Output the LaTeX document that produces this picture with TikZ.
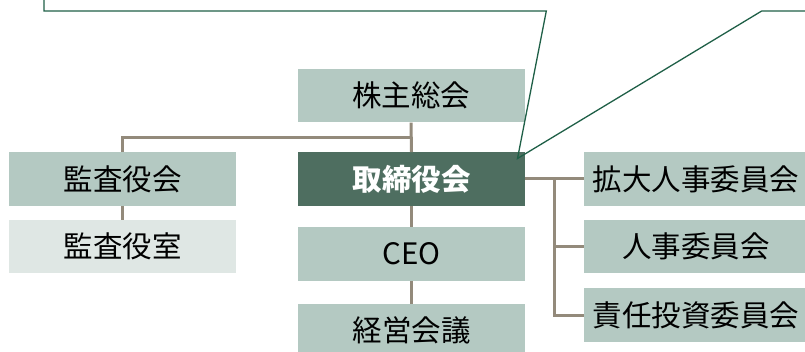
\documentclass[tikz,border=0pt]{standalone}
\usepackage{fontspec}
\setmainfont{Noto Sans CJK JP}
\definecolor{sage}{HTML}{B4C9C2}
\definecolor{darkbox}{HTML}{4E6E60}
\definecolor{paleb}{HTML}{DFE7E4}
\definecolor{linec}{HTML}{938A7B}
\definecolor{callc}{HTML}{1F5F47}
\tikzset{
  orgbox/.style={rectangle, fill=sage, inner sep=0pt, minimum width=227pt, minimum height=53.5pt, font=\fontsize{29.5}{32}\selectfont, text=black},
  darkorg/.style={orgbox, fill=darkbox, text=white, font=\fontsize{29.5}{32}\selectfont\bfseries},
  paleorg/.style={orgbox, fill=paleb},
  sideorg/.style={orgbox, minimum width=224pt},
  conn/.style={draw=linec, line width=3pt},
  callout/.style={draw=callc, line width=1.3pt, line join=miter}
}
\begin{document}
\begin{tikzpicture}[x=1pt, y=-1pt]
\useasboundingbox (0,0) rectangle (805,352);
\clip (0,0) rectangle (805,352);
\node[orgbox] (sh) at (411,95.7) {株主総会};
\node[darkorg] (tori) at (411.5,179) {取締役会};
\node[orgbox] (kansa) at (122.5,179) {監査役会};
\node[paleorg] (kshitsu) at (122.5,246.5) {監査役室};
\node[orgbox] (ceo) at (411.5,254) {CEO};
\node[orgbox] (keiei) at (411.5,330.5) {経営会議};
\node[sideorg] (kakudai) at (696,179) {拡大人事委員会};
\node[sideorg] (jinji) at (696,246.5) {人事委員会};
\node[sideorg] (sekinin) at (696,315) {責任投資委員会};
\coordinate (j1) at (411,137.5);
\coordinate (bus) at (554,179);
\draw[conn] (sh.south) -- (tori.north);
\draw[conn] (kansa.north) |- (j1);
\draw[conn] (kansa.south) -- (kshitsu.north);
\draw[conn] (tori.south) -- (ceo.north);
\draw[conn] (ceo.south) -- (keiei.north);
\draw[conn] (tori.east) -- (kakudai.west);
\draw[conn] (bus) |- (sekinin.west);
\draw[conn] (bus |- jinji.west) -- (jinji.west);
\coordinate (c0) at (44,-3);
\coordinate (c1) at (44,11);
\coordinate (c2) at (546.3,11);
\coordinate (tip) at (517.5,158.5);
\coordinate (c3) at (761.7,11);
\coordinate (c4) at (810,11);
\draw[callout] (c0) -- (c1) -- (c2) -- (tip) -- (c3) -- (c4);
\end{tikzpicture}
\end{document}
